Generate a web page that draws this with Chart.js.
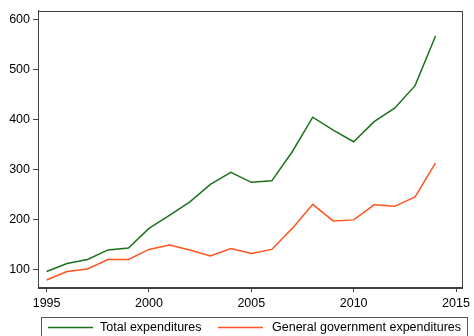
<!DOCTYPE html>
<html>
<head>
<meta charset="utf-8">
<script src="https://cdn.jsdelivr.net/npm/chart.js@4/dist/chart.umd.min.js"></script>
<style>
  html, body { margin: 0; padding: 0; background: #fff; }
  #wrap { width: 474px; height: 336px; }
</style>
</head>
<body>
<div id="wrap"><canvas id="myChart" width="474" height="336"></canvas></div>
<script>
// expenditures per year
let years = [1995, 1996, 1997, 1998, 1999, 2000, 2001, 2002, 2003, 2004,
             2005, 2006, 2007, 2008, 2009, 2010, 2011, 2012, 2013, 2014];
let totalExp = [97, 113, 121, 140, 144, 183, 209, 236, 271, 295,
                275, 278, 336, 405, 379, 356, 396, 423, 468, 567];
let govExp = [80, 97, 102, 121, 121, 141, 150, 140, 128, 143,
              133, 141, 183, 231, 198, 200, 230, 227, 246, 314];
let xTicks = [1995, 2000, 2005, 2010, 2015];
let yTicks = [100, 200, 300, 400, 500, 600];

let font = { family: "'Liberation Sans', Arial, sans-serif", size: 12.5 };
let axisColor = '#404040';

function points(vals) {
    return years.map(function (y, i) { return { x: y, y: vals[i] }; });
}

// plot frame + boxed legend underneath
let frameLegend = {
    id: 'frameLegend',
    afterDraw: function (chart) {
        let ctx = chart.ctx;
        let a = chart.chartArea;
        ctx.save();
        ctx.strokeStyle = axisColor;
        ctx.lineWidth = 1;
        ctx.strokeRect(Math.round(a.left) + 0.5, Math.round(a.top) + 0.5,
                       Math.round(a.right - a.left), Math.round(a.bottom - a.top));

        // legend box
        ctx.strokeStyle = '#555';
        ctx.strokeRect(41.5, 317.5, 426, 30);

        let items = [
            { x: 48, tx: 100 },
            { x: 218, tx: 272 }
        ];
        ctx.font = font.size + 'px ' + font.family;
        ctx.textBaseline = 'middle';
        ctx.textAlign = 'left';
        chart.data.datasets.forEach(function (ds, i) {
            let it = items[i];
            ctx.strokeStyle = ds.borderColor;
            ctx.lineWidth = 1.5;
            ctx.beginPath();
            ctx.moveTo(it.x, 327.5);
            ctx.lineTo(it.x + 45, 327.5);
            ctx.stroke();
            ctx.fillStyle = '#000';
            ctx.fillText(ds.label, it.tx, 328);
        });
        ctx.restore();
    }
};

let ctx = document.getElementById("myChart").getContext("2d");
let config = {
    type: 'line',
    data: {
        datasets: [
            {
                label: 'Total expenditures',
                data: points(totalExp),
                borderColor: '#1b721b',
                borderWidth: 1.5,
                pointRadius: 0,
                tension: 0,
                fill: false
            },
            {
                label: 'General government expenditures',
                data: points(govExp),
                borderColor: '#ff5520',
                borderWidth: 1.5,
                pointRadius: 0,
                tension: 0,
                fill: false
            }
        ]
    },
    options: {
        responsive: false,
        animation: false,
        layout: { padding: { left: 0, top: 10, right: 6, bottom: 0 } },
        plugins: {
            legend: { display: false },
            tooltip: { enabled: false }
        },
        scales: {
            x: {
                type: 'linear',
                min: 1994.58,
                max: 2015.29,
                afterBuildTicks: function (scale) {
                    scale.ticks = xTicks.map(function (v) { return { value: v }; });
                },
                afterFit: function (scale) { scale.height = 49; },
                grid: { drawOnChartArea: false, drawTicks: true, tickLength: 5, color: axisColor },
                border: { display: true, color: axisColor },
                ticks: {
                    color: '#000',
                    font: font,
                    padding: 4,
                    maxRotation: 0,
                    callback: function (v) { return String(v); }
                }
            },
            y: {
                min: 66,
                max: 618,
                afterBuildTicks: function (scale) {
                    scale.ticks = yTicks.map(function (v) { return { value: v }; });
                },
                afterFit: function (scale) { scale.width = 38; },
                grid: { drawOnChartArea: false, drawTicks: true, tickLength: 5, color: axisColor },
                border: { display: true, color: axisColor },
                ticks: {
                    color: '#000',
                    font: font,
                    padding: 3,
                    callback: function (v) { return String(v); }
                }
            }
        }
    },
    plugins: [frameLegend]
};
window.myLine = new Chart(ctx, config);
</script>
</body>
</html>
